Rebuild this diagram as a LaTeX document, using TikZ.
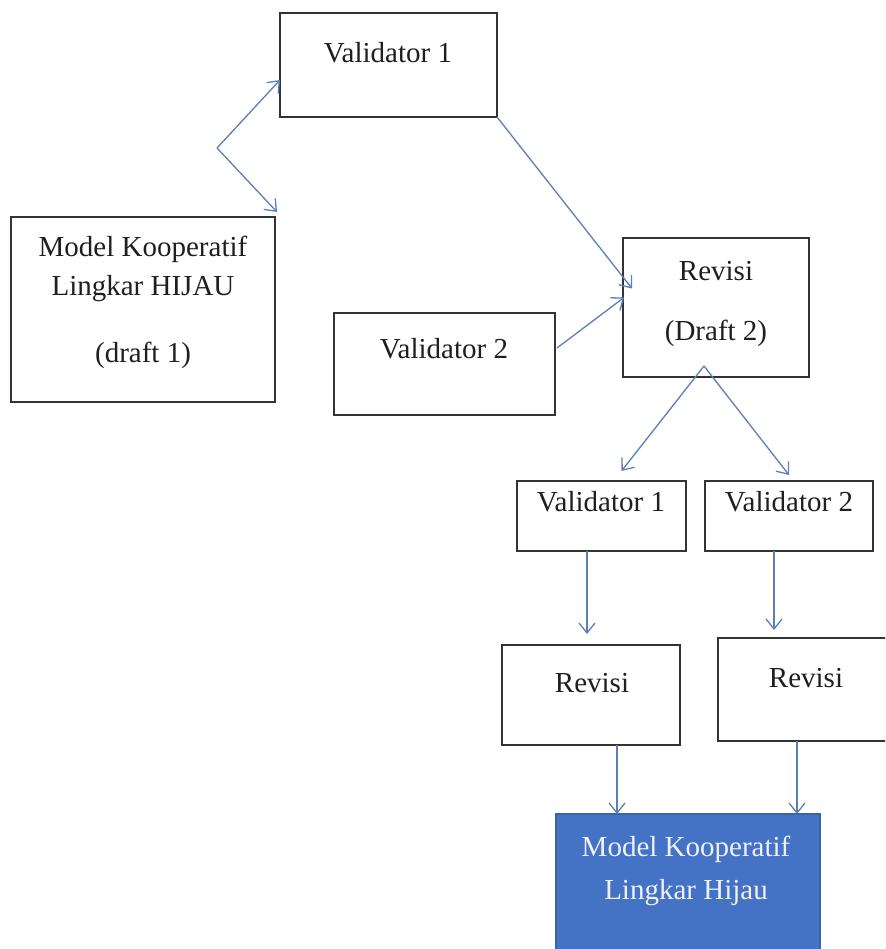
\documentclass[tikz,border=0pt]{standalone}
\usepackage{fontspec}
\setmainfont{Liberation Serif}
\usetikzlibrary{arrows.meta,calc}
\definecolor{arr}{HTML}{5B7FB6}
\definecolor{boxc}{HTML}{333333}
\definecolor{fillblue}{HTML}{4472C4}
\definecolor{blueedge}{HTML}{3B63AA}
\tikzset{
  box/.style={draw=boxc, line width=1.3pt, rectangle, anchor=north west, inner sep=0pt, outer sep=0pt},
  bluebox/.style={box, draw=blueedge, fill=fillblue},
  txt/.style={anchor=base, inner sep=0pt, font=\fontsize{29}{34}\selectfont, text=black!88},
  wtxt/.style={txt, text=white!94!blue},
  conn/.style={draw=arr, line width=1.3pt, -{Straight Barb[length=10pt,width=16pt,line width=1.3pt]}}
}
\begin{document}
\begin{tikzpicture}[x=1pt,y=-1pt]
\clip (0,0) rectangle (885,949);
\fill[white] (0,0) rectangle (885,949);
% boxes
\node[box, minimum width=217pt, minimum height=104pt] (v1) at (280,13) {};
\node[box, minimum width=264pt, minimum height=185pt] (d1) at (11,217) {};
\node[box, minimum width=221pt, minimum height=102pt] (v2) at (334,313) {};
\node[box, minimum width=186pt, minimum height=139pt] (r2) at (623,238) {};
\node[box, minimum width=169pt, minimum height=70pt] (v1b) at (517,481) {};
\node[box, minimum width=168pt, minimum height=70pt] (v2b) at (705,481) {};
\node[box, minimum width=178pt, minimum height=100pt] (rl) at (502,645) {};
\node[box, minimum width=180pt, minimum height=103pt] (rr) at (718,638) {};
\node[bluebox, minimum width=264pt, minimum height=150pt] (bl) at (556,814) {};
% texts
\node[txt] (v1t) at (388,63) {Validator 1};
\node[txt] (d1a) at (143,257) {Model Kooperatif};
\node[txt] (d1b) at (143,295) {Lingkar HIJAU};
\node[txt] (d1c) at (143,362) {(draft 1)};
\node[txt] (v2t) at (444,358) {Validator 2};
\node[txt] (r2a) at (716,280) {Revisi};
\node[txt] (r2b) at (716,340) {(Draft 2)};
\node[txt] (v1bt) at (601,511) {Validator 1};
\node[txt] (v2bt) at (789,511) {Validator 2};
\node[txt] (rlt) at (592,692) {Revisi};
\node[txt] (rrt) at (806,687) {Revisi};
\node[wtxt] (bla) at (686,856) {Model Kooperatif};
\node[wtxt] (blb) at (686,899) {Lingkar Hijau};
% connectors
\coordinate (j) at (217,148);
\draw[conn] (j) -- ([yshift=-15pt]v1.west);
\draw[conn] (j) -- ([shift={(2pt,5pt)}]d1.north east);
\draw[conn] (v1.south east) -- ([shift={(9pt,19pt)}]r2.west);
\draw[conn] ([shift={(2pt,16pt)}]v2.east) -- ([shift={(1pt,10pt)}]r2.west);
\coordinate (jj) at (704,366);
\draw[conn] (jj) -- ([shift={(20pt,10pt)}]v1b.north);
\draw[conn] (jj) -- ([shift={(0pt,6pt)}]v2b.north);
\draw[conn] ([xshift=-14.5pt]v1b.south) -- ([shift={(-4pt,11pt)}]rl.north);
\draw[conn] ([xshift=-15pt]v2b.south) -- ([shift={(-34pt,8pt)}]rr.north);
\draw[conn] ([xshift=26pt]rl.south) -- ([xshift=-71pt]bl.north);
\draw[conn] ([xshift=-11pt]rr.south) -- ([xshift=109pt]bl.north);
\end{tikzpicture}
\end{document}
